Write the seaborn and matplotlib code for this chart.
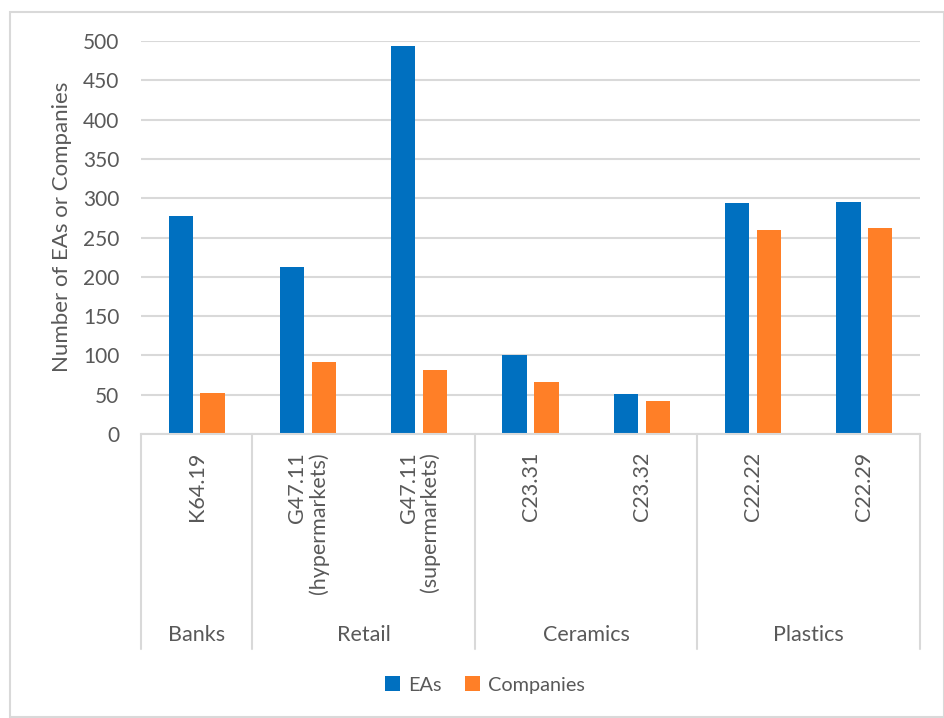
import matplotlib
matplotlib.use("Agg")
import matplotlib.pyplot as plt
from matplotlib.patches import Rectangle, Patch
import matplotlib.transforms as mtransforms
import seaborn as sns
import pandas as pd

# Data
codes = ["K64.19", "G47.11\n(hypermarkets)", "G47.11\n(supermarkets)",
         "C23.31", "C23.32", "C22.22", "C22.29"]
sectors = ["Banks", "Retail", "Ceramics", "Plastics"]
sector_sizes = [1, 2, 2, 2]
eas = [277, 213, 494, 101, 51, 294, 295]
companies = [52, 91, 81, 66, 42, 260, 262]
series_names = ["EAs", "Companies"]
colors = ["#0070C0", "#FF7F27"]

df = pd.DataFrame({
    "code": codes * 2,
    "series": [series_names[0]] * len(codes) + [series_names[1]] * len(codes),
    "value": eas + companies,
})

sns.set_theme(style="white")
plt.rcParams["font.family"] = ["Lato", "DejaVu Sans"]
text_color = "#595959"
grid_color = "#D9D9D9"

W, H = 945, 718
fig = plt.figure(figsize=(W / 100, H / 100), dpi=100)

# plot area in pixel terms
left_px, right_px, top_px, bottom_px = 141, 920, 41, 434
ax = fig.add_axes([left_px / W, 1 - bottom_px / H,
                   (right_px - left_px) / W, (bottom_px - top_px) / H])

sns.barplot(data=df, x="code", y="value", hue="series", order=codes,
            hue_order=series_names, palette=colors, width=0.572, gap=0.24,
            saturation=1, ax=ax, legend=False, edgecolor="none")

ax.set_xlim(-0.5, len(codes) - 0.5)
ax.set_ylim(0, 500)
ax.set_yticks(range(0, 501, 50))
ax.yaxis.grid(True, color=grid_color, linewidth=1.5)
ax.set_axisbelow(True)
for s in ["top", "right", "left"]:
    ax.spines[s].set_visible(False)
ax.spines["bottom"].set_color(grid_color)
ax.spines["bottom"].set_linewidth(1.5)
ax.tick_params(axis="y", length=0, pad=15.5, labelsize=15, labelcolor=text_color)
ax.set_xticks([])
ax.set_xlabel("")
ax.set_ylabel("Number of EAs or Companies", fontsize=16, color=text_color)
ax.yaxis.set_label_coords(-0.089, 0.527)

# multi-level category axis
ax_h = bottom_px - top_px
trans = mtransforms.blended_transform_factory(ax.transData, ax.transAxes)
sep_bottom = -(649 - bottom_px) / ax_h
bounds = [-0.5]
for n in sector_sizes:
    bounds.append(bounds[-1] + n)
for b in bounds:
    ax.plot([b, b], [0, sep_bottom], transform=trans, color=grid_color,
            linewidth=1.5, clip_on=False)

for i, code in enumerate(codes):
    ax.text(i, -(452 - bottom_px) / ax_h, code, transform=trans, rotation=90,
            ha="center", va="top", multialignment="right", fontsize=15.5,
            color=text_color, linespacing=1.05)

for j, sector in enumerate(sectors):
    center = (bounds[j] + bounds[j + 1]) / 2
    ax.text(center, -(635 - bottom_px) / ax_h, sector, transform=trans,
            ha="center", va="center", fontsize=15.5, color=text_color)

# legend
handles = [Patch(facecolor=c, edgecolor="none", label=n)
           for c, n in zip(colors, series_names)]
leg = fig.legend(handles=handles, loc="center", ncol=2,
                 bbox_to_anchor=(485 / W, 1 - 685 / H), frameon=False,
                 handlelength=0.75, handleheight=0.75, handletextpad=0.4,
                 columnspacing=1.2, fontsize=14.3)
for t in leg.get_texts():
    t.set_color(text_color)

# chart border
fig.patches.append(Rectangle((10 / W, 1 - 717 / H), (944 - 10) / W, (717 - 12) / H,
                             transform=fig.transFigure, fill=False,
                             edgecolor=grid_color, linewidth=1.5))

fig.savefig("out.png", dpi=100)
